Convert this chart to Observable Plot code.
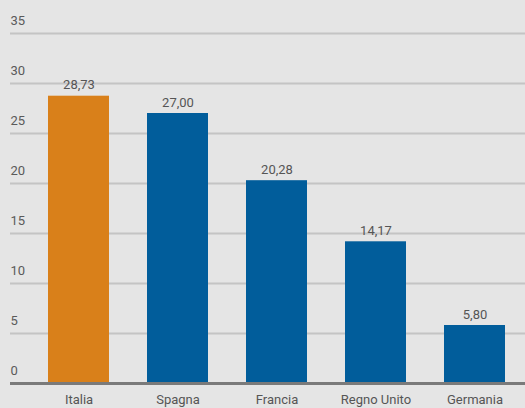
<!DOCTYPE html>
<html><head><meta charset="utf-8">
<script src="https://cdn.jsdelivr.net/npm/d3@7"></script>
<script src="https://cdn.jsdelivr.net/npm/@observablehq/plot@0.6"></script>
<style>
html,body{margin:0;padding:0;background:#e5e5e5;}
svg{display:block;}
</style></head><body>
<div id="chart"></div>
<script>
const countries = ["Italia", "Spagna", "Francia", "Regno Unito", "Germania"];
const values = [28.73, 27.00, 20.28, 14.17, 5.80];
const barColors = ["#d9801a", "#015d9b", "#015d9b", "#015d9b", "#015d9b"];
const yTicks = [0, 5, 10, 15, 20, 25, 30, 35];

const data = countries.map((c, i) => ({country: c, value: values[i], color: barColors[i]}));
const fmt = v => v.toFixed(2).replace(".", ",");

const chart = Plot.plot({
  width: 525,
  height: 408,
  marginLeft: 10,
  marginRight: 0,
  marginTop: 33,
  marginBottom: 25,
  style: {background: "#e5e5e5", fontFamily: "Roboto, sans-serif", fontSize: "13px", color: "#555"},
  x: {domain: countries, paddingInner: 0.387, paddingOuter: 0.28, align: 0.66, label: null},
  y: {domain: [0, 35], label: null, axis: null},
  marks: [
    Plot.ruleY(yTicks.filter(t => t > 0), {stroke: "#c4c4c4", strokeWidth: 2}),
    Plot.text(yTicks, {y: d => d, text: d => String(d), frameAnchor: "left", textAnchor: "start", dy: -13, fill: "#5a5a5a", fontSize: 13}),
    Plot.barY(data, {x: "country", y: "value", fill: "color"}),
    Plot.text(data, {x: "country", y: "value", text: d => fmt(d.value), dy: -11, fill: "#555", fontSize: 13}),
    Plot.ruleY([0], {stroke: "#7a7a7a", strokeWidth: 3}),
    Plot.axisX({tickSize: 0, tickPadding: 11, fontSize: 13, color: "#555", label: null})
  ]
});
document.getElementById("chart").appendChild(chart);
</script>
</body></html>
